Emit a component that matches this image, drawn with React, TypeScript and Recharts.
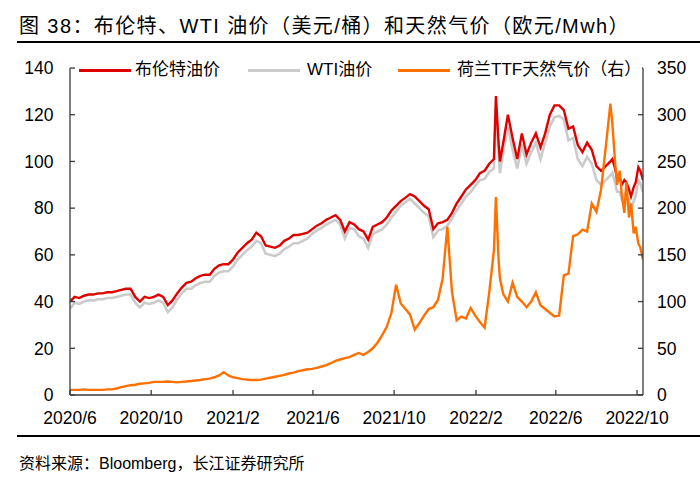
import React from 'react';
import { LineChart, Line, XAxis, YAxis } from 'recharts';

const dates = [
  '2020-06-01','2020-06-08','2020-06-15','2020-06-22','2020-06-29','2020-07-06','2020-07-13','2020-07-20','2020-07-27','2020-08-03','2020-08-10','2020-08-17','2020-08-24','2020-08-31','2020-09-07','2020-09-14','2020-09-21','2020-09-28','2020-10-05','2020-10-12','2020-10-19','2020-10-26','2020-11-02','2020-11-09','2020-11-16','2020-11-23','2020-11-30','2020-12-07','2020-12-14','2020-12-21','2020-12-28',
  '2021-01-04','2021-01-11','2021-01-18','2021-01-25','2021-02-01','2021-02-08','2021-02-15','2021-02-22','2021-03-01','2021-03-08','2021-03-15','2021-03-22','2021-03-29','2021-04-05','2021-04-12','2021-04-19','2021-04-26','2021-05-03','2021-05-10','2021-05-17','2021-05-24','2021-05-31','2021-06-07','2021-06-14','2021-06-21','2021-06-28','2021-07-05','2021-07-12','2021-07-19','2021-07-26','2021-08-02','2021-08-09','2021-08-16','2021-08-23','2021-08-30','2021-09-06','2021-09-13','2021-09-20','2021-09-27','2021-10-04','2021-10-11','2021-10-18','2021-10-25','2021-11-01','2021-11-08','2021-11-15','2021-11-22','2021-11-29','2021-12-06','2021-12-13','2021-12-20','2021-12-27',
  '2022-01-03','2022-01-10','2022-01-17','2022-01-24','2022-01-31','2022-02-07','2022-02-14','2022-02-21','2022-02-28','2022-03-03','2022-03-07','2022-03-09','2022-03-14','2022-03-21','2022-03-28','2022-04-04','2022-04-11','2022-04-18','2022-04-25','2022-05-02','2022-05-09','2022-05-16','2022-05-23','2022-05-30','2022-06-06','2022-06-13','2022-06-20','2022-06-27','2022-07-04','2022-07-11','2022-07-18','2022-07-25','2022-08-01','2022-08-08','2022-08-15','2022-08-22','2022-08-25','2022-08-29','2022-09-01','2022-09-05','2022-09-08','2022-09-12','2022-09-15','2022-09-19','2022-09-22','2022-09-26','2022-09-29','2022-10-03','2022-10-06','2022-10-10',
];

const brent = [
  40, 42, 41.5, 42.5, 43, 43, 43.5, 43.5, 44, 44, 44.5, 45, 45.5, 45.5, 42, 40, 42, 41.5, 42, 43, 42, 38.5, 40.5, 43.5, 46, 48, 48.5, 50, 51, 51.5, 51.5,
  54, 55.5, 56, 56, 58, 61, 63, 65, 66.5, 69.5, 68, 64, 63.5, 63, 64, 66, 67, 68.5, 68.5, 69, 69.5, 71, 72.5, 73.5, 75, 76, 77, 75, 70, 74, 73, 71, 70, 66.5, 72, 73, 74, 76, 79, 81, 83, 84.5, 86, 85, 83, 81, 79.5, 71, 73.5, 74, 75, 78,
  82, 85, 88, 90, 92, 95, 96, 99, 101, 128, 108, 100, 108, 120, 110, 101, 112, 103, 108, 112, 106, 112, 120, 124, 124, 122, 114, 115, 107, 104, 108, 105, 98, 96, 98, 100, 101, 97, 93, 93, 90, 92, 91, 88, 85, 89, 91, 97.5, 96, 92,
];

const wti = [
  37, 39.5, 39, 40, 40.5, 40.5, 41, 41, 41.5, 41.5, 42, 42.5, 43, 43, 39.5, 37.5, 39.5, 39, 39.5, 40.5, 39.5, 35.5, 37.5, 41, 43.5, 45.5, 45.5, 47, 48, 48.5, 48.5,
  51, 52.5, 53, 53, 55, 58, 60, 62, 63.5, 66, 65, 60.5, 60, 59.5, 60.5, 62.5, 63.5, 65, 65, 66, 67, 69, 70.5, 71.5, 73, 74, 75, 73, 67, 71.5, 71, 68, 67, 63, 69, 70, 71, 73, 76, 78.5, 81, 82.5, 84, 82, 80, 78, 76.5, 67.5, 70.5, 71, 72.5, 75.5,
  79, 82, 85, 87, 89.5, 92, 92.5, 95.5, 97, 123, 103, 95, 104, 115, 105, 97, 107, 99, 104, 108, 101, 108, 115, 119, 119.5, 118, 109, 110, 101, 98, 102, 99, 92, 90, 92, 94, 95, 91, 87, 87, 84, 86, 85, 83, 79.5, 83, 85, 92, 90.5, 87,
];

const ttf = [
  5.5, 5.5, 5.5, 6, 5.5, 5.5, 5.5, 5.5, 6, 6, 7, 8.5, 9.5, 10.5, 11, 12, 12.5, 13, 14, 14, 14, 14.5, 14, 13.5, 14, 14.5, 15, 15.5, 16, 17, 17.5,
  19, 21, 24.5, 21, 19, 18, 17, 16.5, 16, 16, 16.5, 17.5, 18.5, 19.5, 20.5, 21.5, 23, 24, 25.5, 26.5, 27.5, 28, 29, 30.5, 32, 34, 36.5, 38, 39.5, 40.5, 43, 45, 43, 46, 50, 56, 64, 73, 88, 118, 98, 92, 86, 70, 77, 85, 92, 94, 102, 125, 180, 110,
  80, 84, 82, 93, 85, 78, 72, 110, 155, 212, 145, 125, 108, 100, 120, 105, 100, 94, 100, 110, 96, 92, 88, 84, 85, 128, 130, 170, 172, 177, 175, 205, 196, 220, 265, 312, 290, 250, 225, 240, 215, 195, 228, 190, 205, 173, 180, 162, 158, 145,
];

const xTickDates = ['2020-06-01','2020-10-01','2021-02-01','2021-06-01','2021-10-01','2022-02-01','2022-06-01','2022-10-01'];
const xTickLabels = ['2020/6','2020/10','2021/2','2021/6','2021/10','2022/2','2022/6','2022/10'];
const leftTicks = [0, 20, 40, 60, 80, 100, 120, 140];
const rightTicks = [0, 50, 100, 150, 200, 250, 300, 350];

const seriesNames = ['布伦特油价', 'WTI油价', '荷兰TTF天然气价（右）'];
const titleText = '图 38：布伦特、WTI 油价（美元/桶）和天然气价（欧元/Mwh）';
const sourceText = '资料来源：Bloomberg，长江证券研究所';

const RED = '#E00000';
const GRAY = '#CBCBCB';
const ORANGE = '#FF7000';
const AXIS = '#3a3a3a';
const FONT = '"Liberation Sans", Arial, "Noto Sans CJK SC", sans-serif';

const W = 700;
const H = 485;
const PLOT_LEFT = 70;
const PLOT_RIGHT = 643;
const PLOT_TOP = 68;
const PLOT_BOTTOM = 395;

const toT = (d: string) => Date.parse(d + 'T00:00:00Z');

const data = dates.map((d, i) => ({ t: toT(d), brent: brent[i], wti: wti[i], ttf: ttf[i] }));
const xTicks = xTickDates.map(toT);
const xDomain = [toT('2020-06-01'), toT('2022-10-10')];

const LeftTick = (props: any) => {
  const { y, payload } = props;
  return (
    <g>
      <line x1={PLOT_LEFT} x2={PLOT_LEFT + 5} y1={y} y2={y} stroke={AXIS} strokeWidth={1.3} />
      <text x={53.5} y={y} dy="0.36em" textAnchor="end" fontSize={17.5} fill="#000" fontFamily={FONT}>
        {payload.value}
      </text>
    </g>
  );
};

const RightTick = (props: any) => {
  const { y, payload } = props;
  return (
    <g>
      <line x1={PLOT_RIGHT - 5} x2={PLOT_RIGHT} y1={y} y2={y} stroke={AXIS} strokeWidth={1.3} />
      <text x={657} y={y} dy="0.36em" textAnchor="start" fontSize={17.5} fill="#000" fontFamily={FONT}>
        {payload.value}
      </text>
    </g>
  );
};

const BottomTick = (props: any) => {
  const { x, payload, index } = props;
  return (
    <g>
      <line x1={x} x2={x} y1={PLOT_BOTTOM} y2={PLOT_BOTTOM - 5} stroke={AXIS} strokeWidth={1.3} />
      <text x={x} y={418} dy="0.36em" textAnchor="middle" fontSize={17.5} fill="#000" fontFamily={FONT}>
        {xTickLabels[index] ?? payload.value}
      </text>
    </g>
  );
};

const legendItems = [
  { name: seriesNames[0], color: RED, lineX: 79, textX: 135 },
  { name: seriesNames[1], color: GRAY, lineX: 248, textX: 307 },
  { name: seriesNames[2], color: ORANGE, lineX: 398, textX: 457 },
];

export default function App() {
  return (
    <div style={{ position: 'absolute', left: 0, top: 0, width: W, height: H, background: '#fff', fontFamily: FONT, overflow: 'hidden' }}>
      <div style={{ position: 'absolute', left: 19, top: 12, fontSize: 20, letterSpacing: 1.4, lineHeight: '28px', whiteSpace: 'nowrap', color: '#000' }}>
        {titleText}
      </div>
      <div style={{ position: 'absolute', left: 17, top: 41, width: W - 17, height: 2, background: '#000' }} />

      <LineChart
        width={W}
        height={H}
        data={data}
        margin={{ top: PLOT_TOP, right: 0, bottom: 0, left: 0 }}
      >
        <XAxis
          dataKey="t"
          type="number"
          domain={xDomain}
          ticks={xTicks}
          interval={0}
          allowDataOverflow
          height={H - PLOT_BOTTOM}
          axisLine={{ stroke: AXIS, strokeWidth: 1.3 }}
          tickLine={false}
          tick={<BottomTick />}
        />
        <YAxis
          yAxisId="left"
          orientation="left"
          width={PLOT_LEFT}
          domain={[0, 140]}
          ticks={leftTicks}
          interval={0}
          axisLine={{ stroke: AXIS, strokeWidth: 1.3 }}
          tickLine={false}
          tick={<LeftTick />}
        />
        <YAxis
          yAxisId="right"
          orientation="right"
          width={W - PLOT_RIGHT}
          domain={[0, 350]}
          ticks={rightTicks}
          interval={0}
          axisLine={{ stroke: AXIS, strokeWidth: 1.3 }}
          tickLine={false}
          tick={<RightTick />}
        />
        <Line yAxisId="left" dataKey="wti" stroke={GRAY} strokeWidth={2.6} dot={false} type="linear" isAnimationActive={false} />
        <Line yAxisId="left" dataKey="brent" stroke={RED} strokeWidth={2.4} dot={false} type="linear" isAnimationActive={false} />
        <Line yAxisId="right" dataKey="ttf" stroke={ORANGE} strokeWidth={2.4} dot={false} type="linear" isAnimationActive={false} />
      </LineChart>

      <div style={{ position: 'absolute', left: 76, top: 58, width: PLOT_RIGHT - 1 - 76, height: 24, background: '#fff', overflow: 'hidden' }}>
        {legendItems.map((it) => (
          <React.Fragment key={it.name}>
            <div style={{ position: 'absolute', left: it.lineX - 76, top: 11, width: 52, height: 3, background: it.color }} />
            <div style={{ position: 'absolute', left: it.textX - 76, top: 0, fontSize: 17, lineHeight: '24px', whiteSpace: 'nowrap', color: '#000' }}>
              {it.name}
            </div>
          </React.Fragment>
        ))}
      </div>

      <div style={{ position: 'absolute', left: 17, top: 435, width: W - 17, height: 2, background: '#000' }} />
      <div style={{ position: 'absolute', left: 19, top: 452, fontSize: 16, lineHeight: '24px', whiteSpace: 'nowrap', color: '#000' }}>
        {sourceText}
      </div>
    </div>
  );
}
